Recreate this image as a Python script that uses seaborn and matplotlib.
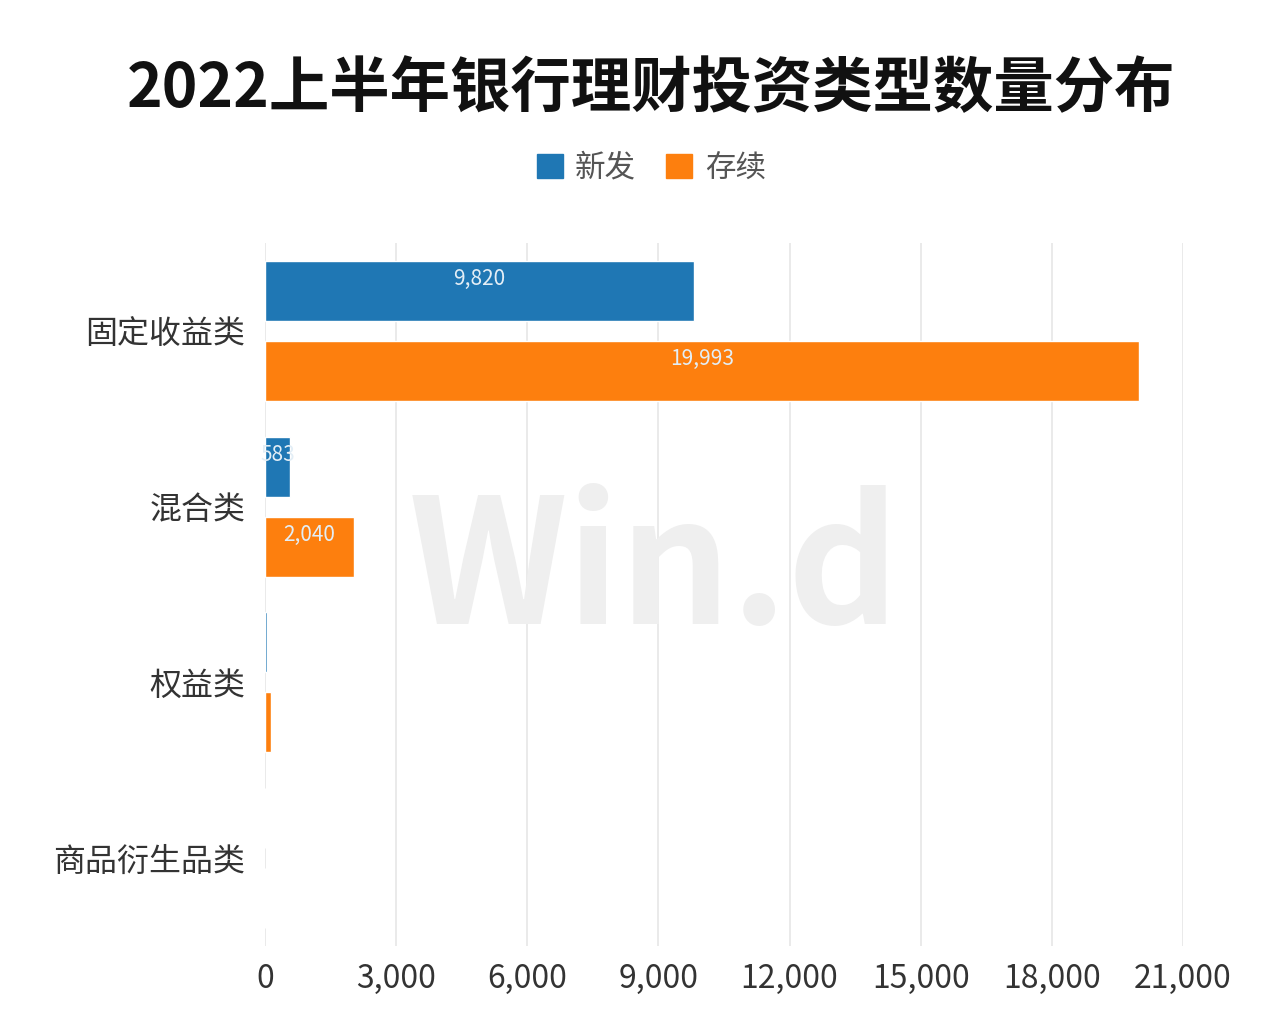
import pandas as pd
import matplotlib
matplotlib.use("Agg")
import matplotlib.pyplot as plt
import seaborn as sns

# 数据
categories = ["固定收益类", "混合类", "权益类", "商品衍生品类"]
new_issue = [9820, 583, 40, 3]
existing = [19993, 2040, 130, 8]
series_names = ["新发", "存续"]
xticks = [0, 3000, 6000, 9000, 12000, 15000, 18000, 21000]

df = pd.DataFrame({
    "类型": categories * 2,
    "数量": new_issue + existing,
    "系列": [series_names[0]] * 4 + [series_names[1]] * 4,
})

sns.set_style("white")
plt.rcParams["font.family"] = ["Noto Sans CJK SC", "DejaVu Sans"]

colors = ["#1f77b4", "#fd7f0e"]

fig = plt.figure(figsize=(12.87, 10.14), dpi=100)
ax = fig.add_axes([0.2059, 0.0671, 0.7133, 0.6933])

sns.barplot(data=df, y="类型", x="数量", hue="系列", orient="h",
            palette=colors, saturation=1, width=0.91, gap=0.25,
            order=categories, hue_order=series_names, ax=ax, legend=False)

ax.set_xlim(0, 21000)
ax.set_xticks(xticks)
ax.set_xticklabels([f"{v:,}" for v in xticks], fontsize=23, color="#333333")
ax.tick_params(axis="x", length=0, pad=12)
ax.tick_params(axis="y", length=0, pad=14, labelsize=23, labelcolor="#333333")
ax.set_xlabel("")
ax.set_ylabel("")
ax.grid(axis="x", color="#e6e6e6", linewidth=1.2)
ax.set_axisbelow(True)
for s in ax.spines.values():
    s.set_visible(False)

# 数据标签
for p in ax.patches:
    w = p.get_width()
    if w >= 500:
        ax.text(w / 2, p.get_y() + p.get_height() * 0.3, f"{int(w):,}",
                ha="center", va="center", fontsize=15, color="#e3eef6")

# 水印
fig.text(0.508, 0.435, "Win.d", fontsize=125, fontweight="bold", color="#efefef",
         ha="center", va="center", zorder=0)

# 标题
fig.text(0.506, 0.912, "2022上半年银行理财投资类型数量分布", fontsize=43.5,
         fontweight="bold", ha="center", va="center", color="#111111")

# 图例
handles = [plt.Rectangle((0, 0), 1, 1, color=c) for c in colors]
fig.legend(handles, series_names, loc="center", bbox_to_anchor=(0.506, 0.834),
           ncol=2, frameon=False, fontsize=22, labelcolor="#555555",
           handlelength=0.85, handleheight=0.85, handletextpad=0.4, columnspacing=1.0)

fig.savefig("out.png", dpi=100)
